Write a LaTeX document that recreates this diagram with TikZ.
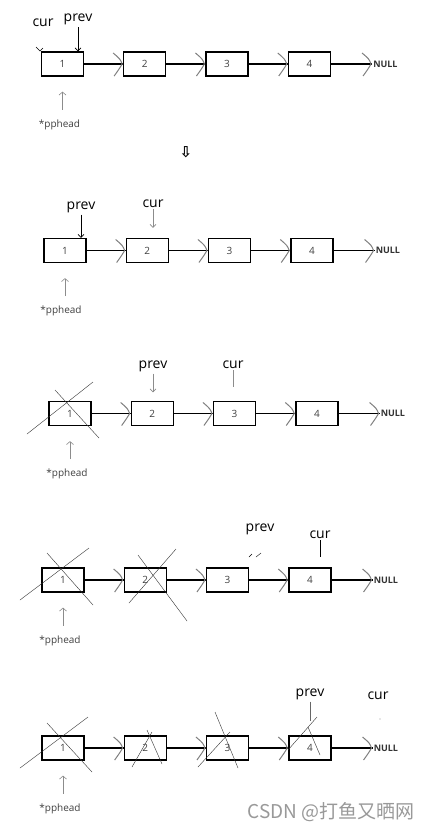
\documentclass[tikz,border=0pt]{standalone}
\usepackage{fontspec}
\setmainfont{Open Sans}
\newfontfamily\cjk{Noto Sans CJK SC}
\newfontfamily\symfont{DejaVu Sans}
\usetikzlibrary{arrows.meta, positioning}
\newcommand\nodelink[2]{%
  \draw[link] (#1) -- (#2);
  \draw[chev] ([xshift=-10pt, yshift=11pt]#2.west) .. controls ([xshift=-3pt, yshift=5pt]#2.west) .. ([xshift=-1pt]#2.west)
    .. controls ([xshift=-4pt, yshift=-5pt]#2.west) .. ([xshift=-9pt, yshift=-12pt]#2.west);}

\begin{document}
\begin{tikzpicture}[x=1pt, y=-1pt, node distance=39pt,
  box/.style={draw, line width=1.3pt, minimum width=42pt, minimum height=24pt, inner sep=0pt, font=\fontsize{10}{11}\selectfont, text=black!75},
  link/.style={line width=1.3pt},
  chev/.style={black!50, line width=1pt},
  nul/.style={inner sep=1pt, font=\fontsize{9}{10}\selectfont\bfseries, text=black!80},
  lbl/.style={inner sep=2pt, anchor=base, font=\fontsize{14}{16}\selectfont},
  ptr/.style={line width=0.7pt},
  tip/.style={-{Straight Barb[length=3pt, width=6pt]}},
  ph/.style={inner sep=0pt, font=\fontsize{10}{12}\selectfont, text=black!75},
  up/.style={black!45, line width=0.6pt, -{Straight Barb[length=3pt, width=7pt]}, shorten <=10pt, shorten >=15pt},
  xline/.style={line width=0.4pt, black!80}]
\fill[white] (0,0) rectangle (431,830);
\useasboundingbox (0,0) rectangle (431,830);

% step 0
\node[box] (a1) at (62.5,64) {1};
\node[box, right=of a1] (a2) {2};
\node[box, right=of a2] (a3) {3};
\node[box, right=of a3] (a4) {4};
\node[nul, right=41pt of a4] (na) {NULL};
\nodelink{a1}{a2}
\nodelink{a2}{a3}
\nodelink{a3}{a4}
\nodelink{a4}{na}
\node[lbl] (ca) at (43,26.5) {cur};
\node[lbl] (pa) at (78,21.5) {prev};
\draw[ptr, tip] (pa) -- (pa |- a1.north);
\draw[ptr, line width=0.4pt] (36,47) -- (40,51) -- (43,48);
\node[ph, below=43pt of a1, xshift=-3pt] (ha) {*pphead};
\draw[up] (a1.south |- ha.north) -- (a1.south);

\node[font=\symfont\bfseries\fontsize{15}{15}\selectfont] (dn) at (186,152) {⇩};

% step 1
\node[box] (b1) at (65,250.5) {1};
\node[box, right=of b1] (b2) {2};
\node[box, right=of b2] (b3) {3};
\node[box, right=of b3] (b4) {4};
\node[nul, right=41pt of b4] (nb) {NULL};
\nodelink{b1}{b2}
\nodelink{b2}{b3}
\nodelink{b3}{b4}
\nodelink{b4}{nb}
\node[lbl] (pb) at (81,209) {prev};
\node[lbl] (cb) at (153,207) {cur};
\draw[ptr, tip] (pb) -- (pb |- b1.north);
\draw[ptr, tip, black!45, shorten >=10pt] (cb) -- (cb |- b2.north);
\node[ph, below=43pt of b1, xshift=-4pt] (hb) {*pphead};
\draw[up] (b1.south |- hb.north) -- (b1.south);

% step 2
\node[box] (c1) at (70,413.5) {1};
\node[box, right=of c1] (c2) {2};
\node[box, right=of c2] (c3) {3};
\node[box, right=of c3] (c4) {4};
\node[nul, right=41pt of c4] (nc) {NULL};
\nodelink{c1}{c2}
\nodelink{c2}{c3}
\nodelink{c3}{c4}
\nodelink{c4}{nc}
\node[lbl] (pc) at (153,368) {prev};
\node[lbl] (cc) at (233,368) {cur};
\draw[ptr, tip, black!45, shorten >=8.5pt] (pc) -- (pc |- c2.north);
\draw[ptr, black!45, shorten >=13.5pt] (cc) -- (cc |- c3.north);
\draw[xline] (27,434) -- (93,382);
\draw[xline] (55,390) -- (99,438);
\node[ph, below=43pt of c1, xshift=-3pt] (hc) {*pphead};
\draw[up] (c1.south |- hc.north) -- (c1.south);

% step 3
\node[box] (d1) at (63,580) {1};
\node[box, right=of d1] (d2) {2};
\node[box, right=of d2] (d3) {3};
\node[box, right=of d3] (d4) {4};
\node[nul, right=41pt of d4] (nd) {NULL};
\nodelink{d1}{d2}
\nodelink{d2}{d3}
\nodelink{d3}{d4}
\nodelink{d4}{nd}
\node[lbl] (pd) at (260,531) {prev};
\node[lbl] (cd) at (320,538) {cur};
\draw[ptr, line width=0.4pt] (249,557) -- (252,554);
\draw[ptr, line width=0.4pt] (256,557) -- (261,553);
\draw[ptr, shorten >=10pt] (cd) -- (cd |- d4.north);
\draw[xline] (20,600) -- (89,548);
\draw[xline] (47,553) -- (93,605);
\draw[xline] (129,603) -- (176,549);
\draw[xline] (138,555) -- (187,621);
\node[ph, below=43pt of d1, xshift=-3pt] (hd) {*pphead};
\draw[up] (d1.south |- hd.north) -- (d1.south);

% step 4
\node[box] (e1) at (63,748) {1};
\node[box, right=of e1] (e2) {2};
\node[box, right=of e2] (e3) {3};
\node[box, right=of e3] (e4) {4};
\node[nul, right=41pt of e4] (ne) {NULL};
\nodelink{e1}{e2}
\nodelink{e2}{e3}
\nodelink{e3}{e4}
\nodelink{e4}{ne}
\node[lbl] (pe) at (310,696) {prev};
\node[lbl] (ce) at (378,699) {cur};
\draw[ptr, black!60, shorten >=14pt] (pe) -- (pe |- e4.north);
\fill[black!40] (380,719) circle (0.7);
\draw[xline] (20,768) -- (88,717);
\draw[xline] (47,723) -- (92,772);
\draw[xline] (132,767) -- (152,732);
\draw[xline] (147,730) -- (162,764);
\draw[xline] (198,767) -- (230,732);
\draw[xline] (215,712) -- (238,768);
\draw[xline] (288,750) -- (317,717);
\draw[xline] (308,727) -- (320,755);
\node[ph, below=43pt of e1, xshift=-3pt] (he) {*pphead};
\draw[up] (e1.south |- he.north) -- (e1.south);

\node[anchor=east, font=\cjk\fontsize{19}{21}\selectfont, text=black!40] (wm) at (418,812) {CSDN @打鱼又晒网};
\end{tikzpicture}
\end{document}
